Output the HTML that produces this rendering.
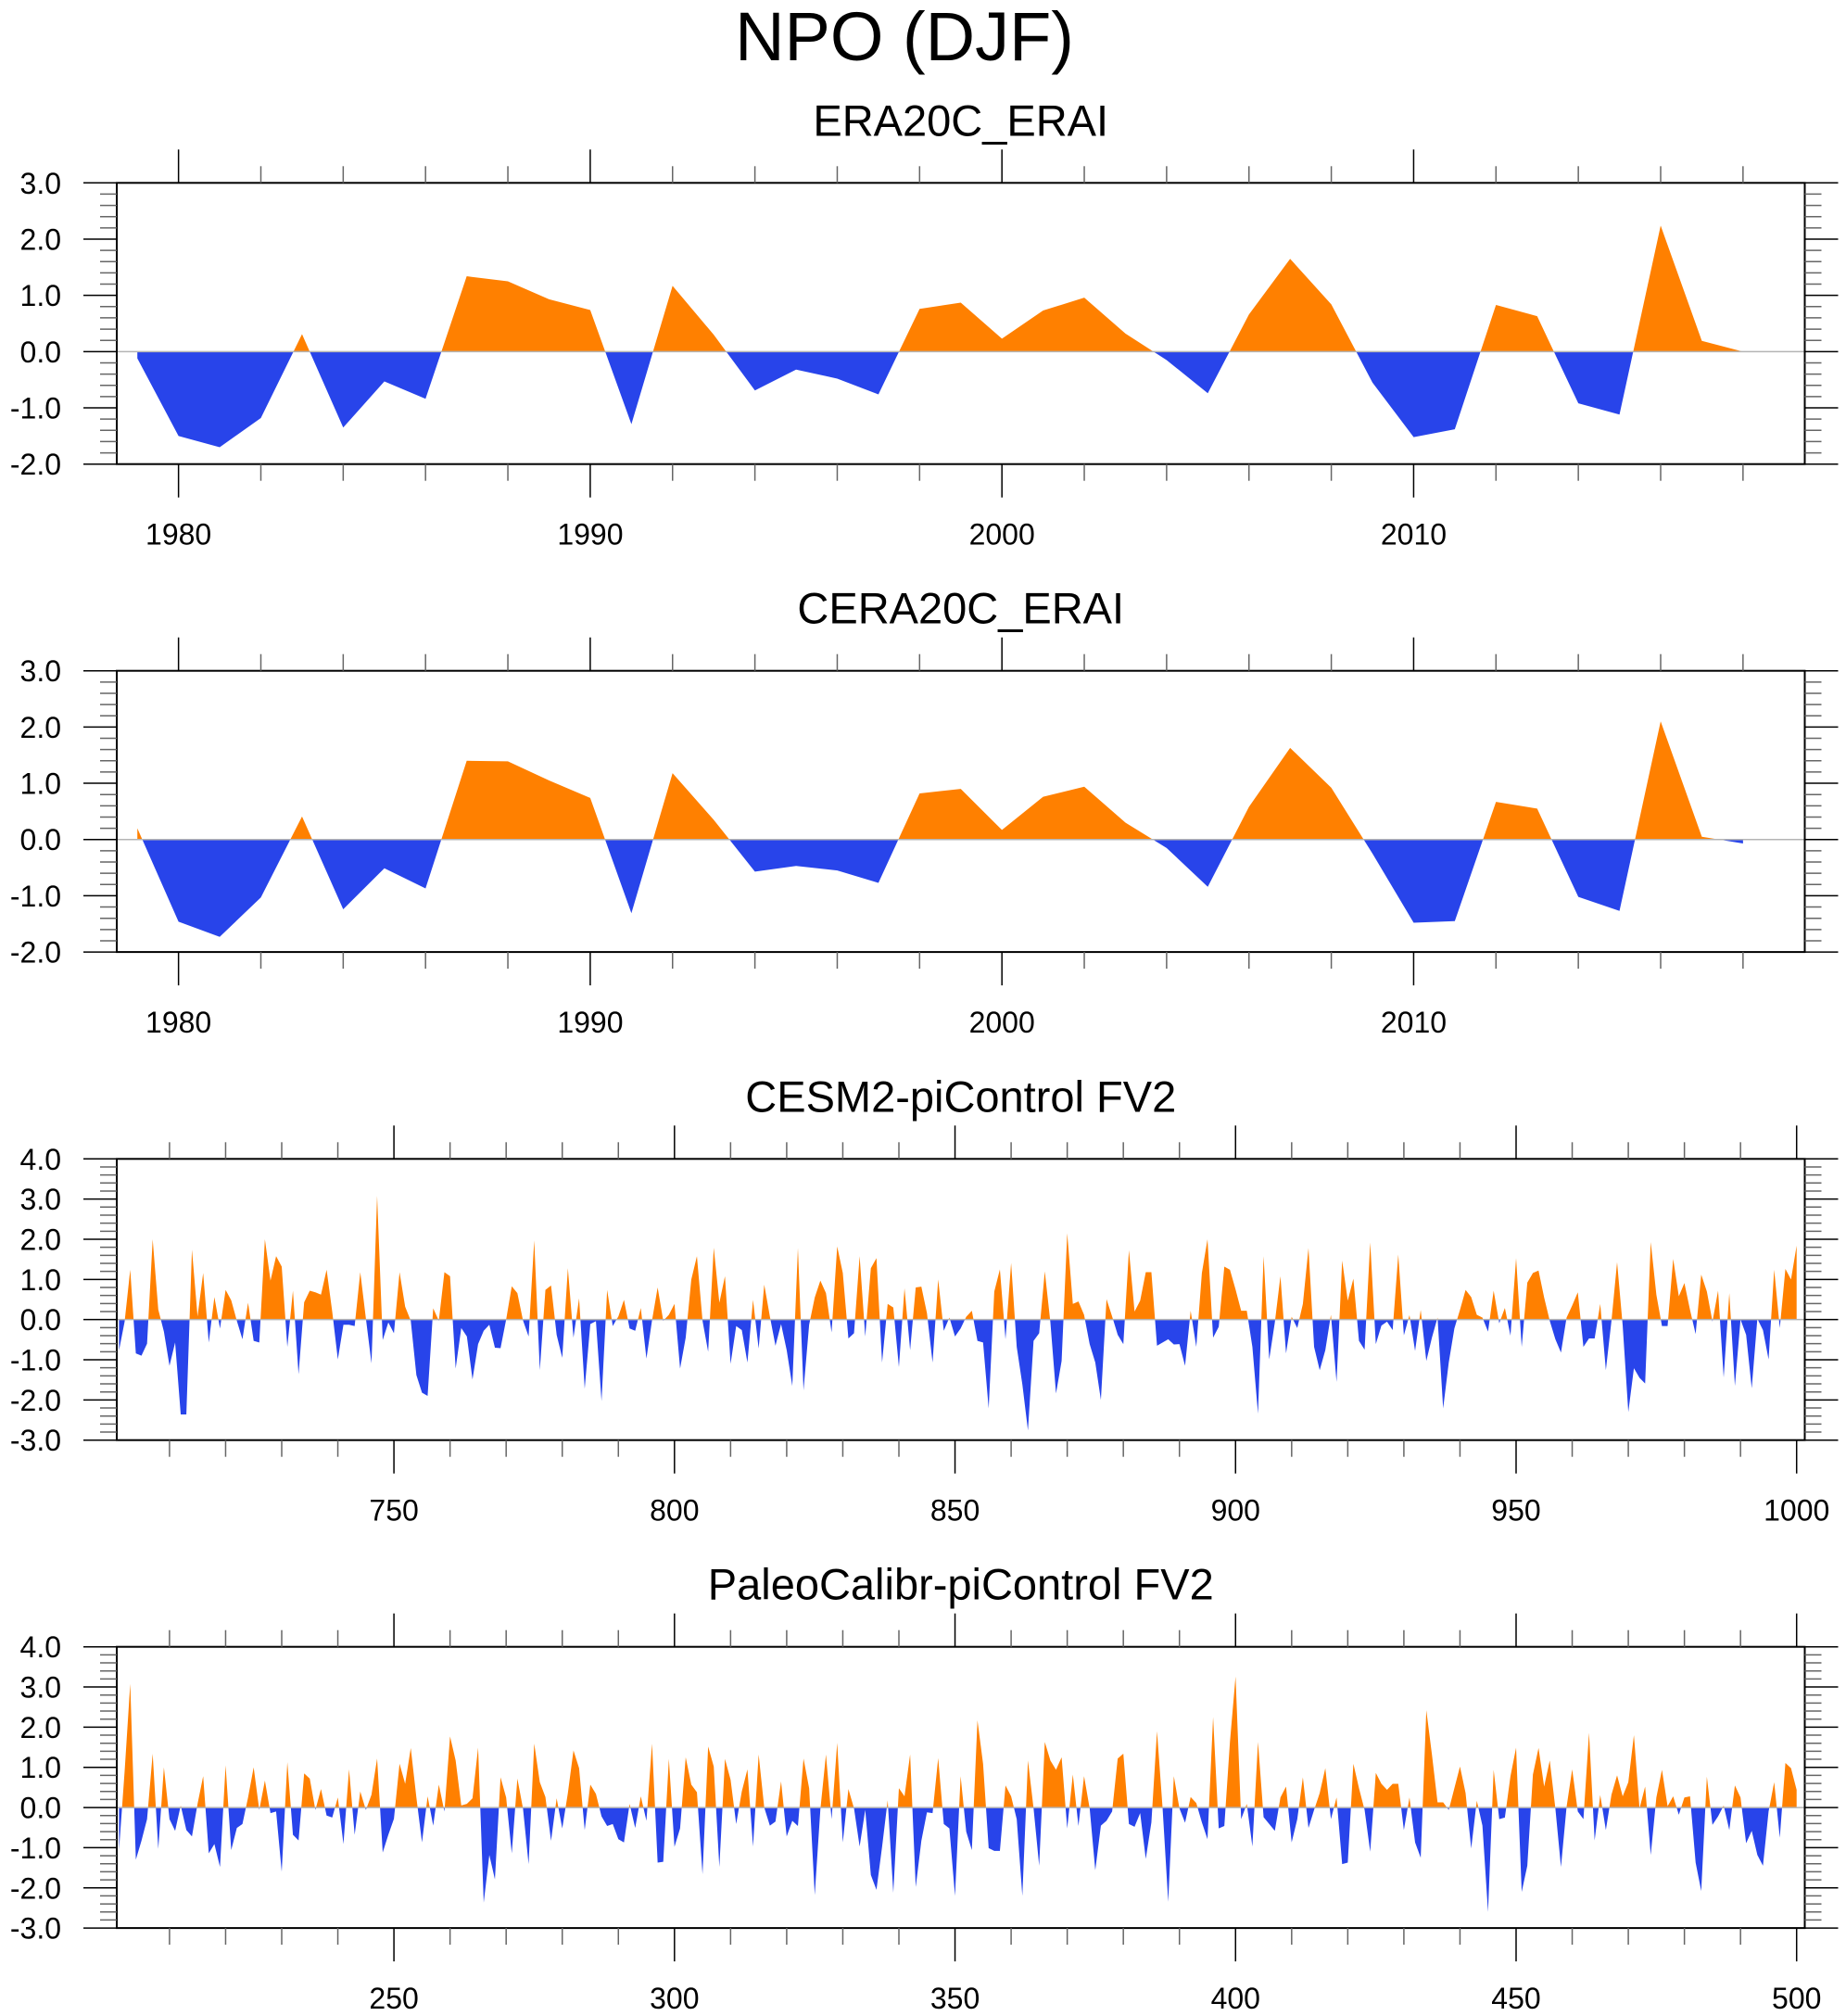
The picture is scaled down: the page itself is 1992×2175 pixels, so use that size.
<!DOCTYPE html>
<html><head><meta charset="utf-8"><style>
html,body{margin:0;padding:0;background:#fff;}
svg{display:block;font-family:"Liberation Sans",Arial,sans-serif;}
</style></head><body>
<svg id="fig" width="1992" height="2175" viewBox="0 0 1992 2175" xmlns="http://www.w3.org/2000/svg">
<text x="976" y="65" font-size="74" text-anchor="middle">NPO (DJF)</text>
</svg>
<script>
// ---- data ----
const era20cStart = 1979;
const era20cValues = [-0.12,-1.5,-1.7,-1.18,0.31,-1.35,-0.53,-0.84,1.34,1.25,
0.93,0.74,-1.29,1.17,0.3,-0.69,-0.32,-0.48,-0.76,0.76,
0.87,0.23,0.73,0.96,0.32,-0.15,-0.74,0.66,1.65,0.84,
-0.55,-1.52,-1.38,0.83,0.63,-0.92,-1.12,2.24,0.19,0.0];
const cera20cStart = 1979;
const cera20cValues = [0.2,-1.46,-1.73,-1.03,0.41,-1.24,-0.51,-0.87,1.40,1.39,
1.05,0.74,-1.31,1.18,0.35,-0.57,-0.47,-0.55,-0.77,0.82,
0.90,0.17,0.76,0.94,0.30,-0.15,-0.84,0.58,1.63,0.92,
-0.25,-1.48,-1.45,0.67,0.55,-1.02,-1.27,2.10,0.05,-0.07];
const cesm2Start = 701;
const cesm2Values = [
-0.77,-0.05,1.24,-0.84,-0.9,-0.6,2.0,0.25,-0.3,-1.15,
-0.57,-2.36,-2.36,1.74,0.08,1.16,-0.57,0.56,-0.22,0.74,
0.48,-0.03,-0.49,0.42,-0.53,-0.57,2.0,0.97,1.58,1.32,
-0.68,0.72,-1.36,0.43,0.72,0.68,0.62,1.24,0.2,-0.99,
-0.13,-0.13,-0.16,1.18,0.03,-1.09,3.08,-0.51,-0.07,-0.34,
1.18,0.32,-0.03,-1.38,-1.82,-1.9,0.28,-0.03,1.18,1.08,
-1.22,-0.21,-0.42,-1.49,-0.61,-0.28,-0.13,-0.7,-0.71,0.0,
0.83,0.66,-0.02,-0.42,1.97,-1.26,0.74,0.85,-0.38,-0.95,
1.28,-0.45,0.53,-1.72,-0.11,-0.04,-2.03,0.74,-0.16,0.08,
0.49,-0.22,-0.28,0.29,-0.97,-0.02,0.8,-0.03,0.12,0.39,
-1.22,-0.45,1.0,1.58,-0.03,-0.8,1.79,0.42,1.08,-1.1,
-0.16,-0.26,-1.07,0.49,-0.72,0.87,0.08,-0.65,-0.11,-0.76,
-1.65,1.78,-1.76,-0.13,0.55,0.97,0.66,-0.32,1.82,1.16,
-0.47,-0.34,1.58,-0.42,1.28,1.53,-1.07,0.39,0.3,-1.18,
0.78,-0.76,0.8,0.82,0.16,-1.07,1.0,-0.28,0.05,-0.42,
-0.22,0.07,0.22,-0.53,-0.57,-2.21,0.7,1.25,-0.49,1.41,
-0.68,-1.61,-2.76,-0.53,-0.34,1.2,-0.07,-1.84,-1.03,2.15,
0.39,0.45,0.12,-0.61,-1.07,-2.0,0.51,0.08,-0.38,-0.61,
1.73,0.2,0.47,1.18,1.18,-0.65,-0.57,-0.49,-0.62,-0.61,
-1.15,0.22,-0.68,1.16,2.0,-0.45,-0.18,1.32,1.24,0.75,
0.22,0.22,-0.68,-2.34,1.58,-0.99,-0.07,1.08,-0.84,0.07,
-0.21,0.39,1.78,-0.68,-1.26,-0.76,0.12,-1.55,1.47,0.47,
1.02,-0.53,-0.75,1.92,-0.61,-0.15,-0.05,-0.26,1.62,-0.39,
0.11,-0.78,0.24,-1.03,-0.45,0.05,-2.21,-1.07,-0.22,0.24,
0.74,0.56,0.12,0.05,-0.3,0.72,-0.09,0.29,-0.4,1.53,
-0.68,0.92,1.16,1.22,0.55,-0.03,-0.49,-0.82,0.05,0.35,
0.68,-0.68,-0.47,-0.47,0.39,-1.26,-0.03,1.43,-0.15,-2.3,
-1.21,-1.45,-1.59,1.93,0.62,-0.16,-0.16,1.51,0.58,0.91,
0.24,-0.36,1.12,0.7,-0.05,0.72,-1.44,0.66,-1.65,0.0,
-0.38,-1.71,0.02,-0.26,-0.99,1.24,-0.21,1.26,1.0,1.84];
const paleoStart = 201;
const paleoValues = [
-1.06,0.9,3.08,-1.3,-0.83,-0.29,1.34,-1.03,1.0,-0.29,
-0.58,0.05,-0.56,-0.72,0.09,0.78,-1.14,-0.91,-1.48,1.05,
-1.06,-0.51,-0.41,0.25,1.0,-0.06,0.67,-0.14,-0.1,-1.6,
1.13,-0.68,-0.82,0.85,0.72,-0.06,0.46,-0.2,-0.25,0.25,
-0.91,0.95,-0.68,0.4,-0.06,0.32,1.22,-1.12,-0.68,-0.28,
1.09,0.59,1.48,0.25,-0.87,0.28,-0.45,0.57,-0.1,1.77,
1.17,0.05,0.09,0.23,1.49,-2.37,-1.18,-1.79,0.75,0.25,
-1.14,0.72,-0.02,-1.41,1.59,0.63,0.26,-0.83,0.23,-0.52,
0.36,1.42,0.98,-0.56,0.57,0.34,-0.22,-0.46,-0.41,-0.79,
-0.87,0.09,-0.51,0.28,-0.33,1.59,-1.37,-1.35,1.21,-0.98,
-0.52,1.25,0.57,0.38,-1.66,1.52,1.02,-1.48,1.21,0.69,
-0.41,0.4,0.95,-0.97,1.32,0,-0.45,-0.35,0.65,-0.72,
-0.33,-0.46,1.22,0.48,-2.18,-0.05,1.32,-0.29,1.61,-0.87,
0.46,-0.02,-0.97,-0.06,-1.68,-2.05,-0.98,0.18,-2.12,0.48,
0.28,1.32,-1.98,-0.83,-0.12,-0.14,1.23,-0.41,-0.52,-2.2,
0.78,-0.6,-1.06,2.17,1.09,-1.01,-1.08,-1.08,0.55,0.28,
-0.29,-2.2,1.17,-0.02,-1.45,1.63,1.17,0.94,1.25,-0.52,
0.82,-0.46,0.78,-0.02,-1.56,-0.45,-0.33,-0.1,1.22,1.34,
-0.41,-0.48,-0.14,-1.28,-0.37,1.9,-0.02,-2.35,0.78,-0.02,
-0.38,0.26,0.11,-0.37,-0.79,2.25,-0.52,-0.46,1.63,3.26,
-0.29,0.09,-0.97,1.63,-0.24,-0.41,-0.58,0.25,0.52,-0.87,
-0.29,0.75,-0.51,-0.06,0.36,0.98,-0.29,0.25,-1.41,-1.37,
1.09,0.48,-0.06,-1.1,0.86,0.59,0.44,0.59,0.59,-0.56,
0.25,-0.87,-1.25,2.42,1.32,0.13,0.13,-0.06,0.48,1.02,
0.36,-1.02,0.17,-0.45,-2.6,0.94,-0.29,-0.25,0.78,1.49,
-2.1,-1.45,0.82,1.48,0.52,1.17,-0.02,-1.48,0.02,0.95,
-0.1,-0.29,1.86,-0.82,0.31,-0.56,0.32,0.8,0.28,0.63,
1.8,-0.02,0.52,-1.18,0.25,0.94,0.03,0.28,-0.18,0.25,
0.28,-1.37,-2.08,0.77,-0.43,-0.22,0.05,-0.56,0.55,0.25,
-0.89,-0.58,-1.18,-1.45,-0.1,0.63,-0.75,1.11,0.98,0.44];
const panelTitles = ["ERA20C_ERAI","CERA20C_ERAI","CESM2-piControl FV2","PaleoCalibr-piControl FV2"];
const yTicks12 = [-2,-1,0,1,2,3];
const yTicks34 = [-3,-2,-1,0,1,2,3,4];
const xLabels1 = [1980,1990,2000,2010];
const xLabels3 = [750,800,850,900,950,1000];
const xLabels4 = [250,300,350,400,450,500];

// ---- drawing ----
const NS = "http://www.w3.org/2000/svg";
const svg = document.getElementById("fig");
const X0 = 126, X1 = 1947.5, H = 303.4;
const ORANGE = "#ff8000", BLUE = "#2844ea";

function mk(tag, attrs, parent) {
  const e = document.createElementNS(NS, tag);
  for (const k in attrs) e.setAttribute(k, attrs[k]);
  parent.appendChild(e);
  return e;
}

function drawPanel(idx, top, xmin, xmax, ymin, ymax, startYear, values, yTicks, xLabels, xMajor, xMinor) {
  const g = mk("g", {}, svg);
  
  
  const bottom = top + H;
  const sx = v => X0 + (v - xmin) / (xmax - xmin) * (X1 - X0);
  const sy = v => bottom - (v - ymin) / (ymax - ymin) * H;

  const t = mk("text", {x: (X0 + X1) / 2, y: top - 51, "font-size": 47, "text-anchor": "middle"}, g);
  t.textContent = panelTitles[idx];
  
  

  // points with zero crossings
  const pts = [];
  for (let i = 0; i < values.length; i++) {
    const x = startYear + i, v = values[i];
    if (i > 0) {
      const pv = values[i - 1];
      if ((pv > 0 && v < 0) || (pv < 0 && v > 0)) {
        const f = pv / (pv - v);
        pts.push([x - 1 + f, 0]);
      }
    }
    pts.push([x, v]);
  }
  const poly = (fn) => {
    let d = "M" + sx(pts[0][0]).toFixed(2) + "," + sy(0).toFixed(2);
    for (const p of pts) d += "L" + sx(p[0]).toFixed(2) + "," + sy(fn(p[1])).toFixed(2);
    d += "L" + sx(pts[pts.length - 1][0]).toFixed(2) + "," + sy(0).toFixed(2) + "Z";
    return d;
  };
  const up = mk("path", {d: poly(v => Math.max(v, 0)), fill: ORANGE}, g);
  
  
  const dn = mk("path", {d: poly(v => Math.min(v, 0)), fill: BLUE}, g);
  
  
  const zl = mk("line", {x1: X0, x2: X1, y1: sy(0), y2: sy(0), stroke: "#b4b4b4", "stroke-width": 1.5}, g);
  
  

  // frame
  const fr = mk("rect", {x: X0, y: top, width: X1 - X0, height: H, fill: "none", stroke: "#000", "stroke-width": 2}, g);
  
  

  // y ticks
  for (let v = ymin; v <= ymax + 1e-9; v += 0.2) {
    const vr = Math.round(v * 10) / 10;
    const major = Math.abs(vr - Math.round(vr)) < 1e-6;
    const L = major ? 36 : 18;
    const y = sy(vr);
    const c = major ? "#000" : "#666";
    const a = mk("line", {x1: X0 - L, x2: X0, y1: y, y2: y, stroke: c, "stroke-width": 1.5}, g);
    
    
    const b = mk("line", {x1: X1, x2: X1 + L, y1: y, y2: y, stroke: c, "stroke-width": 1.5}, g);
    
    
  }
  for (const v of yTicks) {
    const lb = mk("text", {x: 66, y: sy(v) + 11.5, "font-size": 32, "text-anchor": "end"}, g);
    lb.textContent = v.toFixed(1);
    
    
  }
  // x ticks
  const first = Math.ceil(xmin / xMinor) * xMinor;
  for (let x = first; x <= xmax; x += xMinor) {
    const major = x % xMajor === 0;
    const L = major ? 36 : 18;
    const px = sx(x);
    const c = major ? "#000" : "#666";
    const a = mk("line", {x1: px, x2: px, y1: top - L, y2: top, stroke: c, "stroke-width": 1.5}, g);
    
    
    const b = mk("line", {x1: px, x2: px, y1: bottom, y2: bottom + L, stroke: c, "stroke-width": 1.5}, g);
    
    
  }
  for (const x of xLabels) {
    const lb = mk("text", {x: sx(x), y: bottom + 87, "font-size": 32, "text-anchor": "middle"}, g);
    lb.textContent = String(x);
    
    
  }
}

drawPanel(0, 197.3, 1978.5, 2019.5, -2, 3, era20cStart, era20cValues, yTicks12, xLabels1, 10, 2);
drawPanel(1, 723.7, 1978.5, 2019.5, -2, 3, cera20cStart, cera20cValues, yTicks12, xLabels1, 10, 2);
drawPanel(2, 1250.3, 700.6, 1001.45, -3, 4, cesm2Start, cesm2Values, yTicks34, xLabels3, 50, 10);
drawPanel(3, 1776.7, 200.6, 501.45, -3, 4, paleoStart, paleoValues, yTicks34, xLabels4, 50, 10);
</script>
</body></html>
